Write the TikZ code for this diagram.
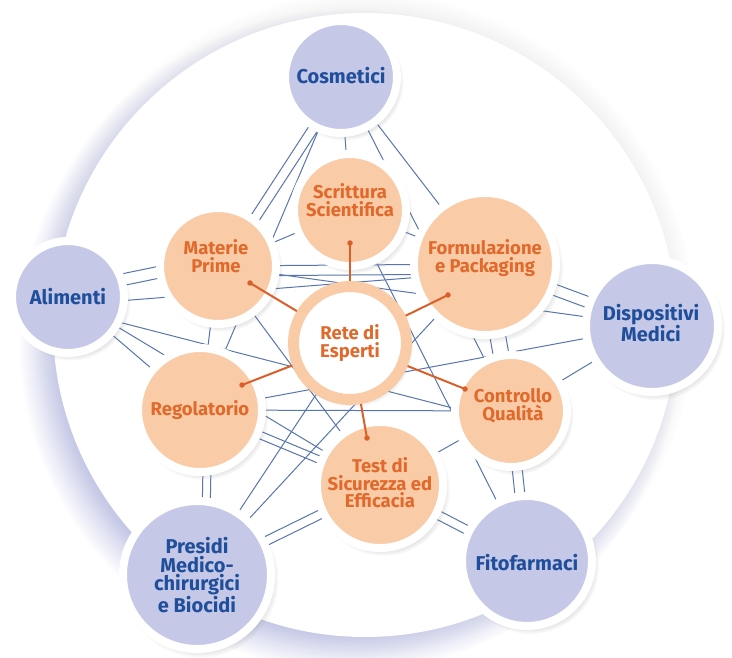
\documentclass[tikz,border=0pt]{standalone}
\usepackage{fontspec}
\setmainfont{Fira Sans}
\usetikzlibrary{shadows,fadings,calc}
\definecolor{lav}{HTML}{C5C8E7}
\definecolor{peach}{HTML}{F9CBA7}
\definecolor{otext}{HTML}{E0692B}
\definecolor{btext}{HTML}{1F4E9B}
\definecolor{meshc}{HTML}{5876AE}
\definecolor{olinec}{HTML}{D9602A}
\definecolor{bgshadow}{HTML}{B8BCE3}
\pgfdeclarelayer{back}
\pgfdeclarelayer{mid}
\pgfsetlayers{back,mid,main}
\newcommand\lnk[4]{\draw[meshline] ([shift={(#3,#4)}]#1.center) -- ([shift={(#3,#4)}]#2.center);}
\begin{document}
\begin{tikzpicture}[x=1pt,y=-1pt,
  bubble/.style={circle, draw=white, line width=8pt, inner sep=0pt,
    circular drop shadow={shadow xshift=3pt, shadow yshift=-4pt, opacity=0.35, shadow scale=1.06}},
  bluebub/.style={bubble, fill=lav, minimum size=#1},
  orbub/.style={bubble, fill=peach, minimum size=#1},
  btxt/.style={text=btext, font=\fontsize{20}{18.5}\selectfont\bfseries, align=center, inner sep=0pt},
  otxt/.style={text=otext, font=\fontsize{18.5}{17.5}\selectfont\bfseries, align=center, inner sep=0pt},
  meshline/.style={draw=meshc, line width=1pt},
  odot/.style={circle, fill=olinec, minimum size=5.5pt, inner sep=0pt},
  oline/.style={draw=olinec, line width=2pt}]
\useasboundingbox (0,0) rectangle (732,658);
\begin{pgfonlayer}{back}
\fill[white] (0,0) rectangle (732,658);
\path[fill=white,
  circular drop shadow={shadow xshift=-1pt, shadow yshift=2pt, fill=black, opacity=0.12, shadow scale=1.06},
  circular drop shadow={shadow xshift=-14pt, shadow yshift=-14pt, fill=bgshadow, opacity=1, shadow scale=1.06}]
  (365,325) circle (312);
\end{pgfonlayer}
% outer (blue) bubbles
\node[bluebub=112] (cos) at (341,77) {};
\node[bluebub=112] (ali) at (68,297) {};
\node[bluebub=132] (disp) at (652,326) {};
\node[bluebub=148] (pres) at (197,575) {};
\node[bluebub=130] (fito) at (527,561) {};
% inner (orange) bubbles
\node[orbub=112] (scr) at (350,210) {};
\node[orbub=116] (mp) at (218,266) {};
\node[orbub=142] (form) at (485,264) {};
\node[orbub=124] (reg) at (200,410) {};
\node[orbub=112] (cq) at (511,411) {};
\node[orbub=126] (test) at (380,485) {};
\node[circle, fill=white, draw=peach, line width=11pt, minimum size=113, inner sep=0pt,
  circular drop shadow={shadow xshift=3pt, shadow yshift=-4pt, opacity=0.3, shadow scale=1.06},
  text=otext, font=\fontsize{18.5}{17.5}\selectfont\bfseries, align=center] (rete) at (350,343) {Rete di\\Esperti};
% labels
\node[btxt] (tcos) at (341,76) {Cosmetici};
\node[btxt] (tali) at (68,297) {Alimenti};
\node[btxt] (tdisp) at (651,323) {Dispositivi\\Medici};
\node[btxt] (tpres) at (197,575) {Presidi\\Medico-\\chirurgici\\e Biocidi};
\node[btxt] (tfito) at (527,563) {Fitofarmaci};
\node[otxt] (tscr) at (350,200) {Scrittura\\Scientifica};
\node[otxt] (tmp) at (216,256) {Materie\\Prime};
\node[otxt] (tform) at (485,258) {Formulazione\\e Packaging};
\node[otxt] (treg) at (200,410) {Regolatorio};
\node[otxt] (tcq) at (513,406) {Controllo\\Qualità};
\node[otxt] (ttest) at (380,483) {Test di\\Sicurezza ed\\Efficacia};
% mesh lines
\begin{pgfonlayer}{mid}
\lnk{cos}{mp}{0}{0}
\lnk{cos}{mp}{9}{4}
\lnk{cos}{reg}{0}{0}
\lnk{cos}{form}{0}{0}
\lnk{cos}{cq}{0}{0}
\lnk{cos}{scr}{0}{0}
\lnk{ali}{mp}{0}{-12}
\lnk{ali}{mp}{0}{0}
\lnk{ali}{form}{0}{8}
\lnk{ali}{cq}{0}{12}
\lnk{ali}{reg}{0}{0}
\lnk{ali}{test}{0}{0}
\lnk{disp}{form}{0}{-6}
\lnk{disp}{form}{0}{6}
\lnk{disp}{cq}{0}{0}
\lnk{disp}{mp}{0}{0}
\lnk{disp}{reg}{0}{0}
\lnk{fito}{cq}{-5}{0}
\lnk{fito}{cq}{5}{0}
\lnk{fito}{test}{0}{-5}
\lnk{fito}{test}{0}{5}
\lnk{fito}{scr}{0}{0}
\lnk{pres}{reg}{4}{0}
\lnk{pres}{reg}{12}{0}
\lnk{pres}{rete}{0}{0}
\lnk{pres}{form}{0}{0}
\lnk{pres}{test}{0}{-5}
\lnk{pres}{test}{0}{5}
\lnk{reg}{test}{0}{-4}
\lnk{reg}{test}{0}{4}
\lnk{reg}{cq}{0}{0}
\lnk{mp}{reg}{0}{0}
\lnk{mp}{test}{0}{0}
\lnk{mp}{form}{0}{0}
\lnk{mp}{form}{0}{10}
\lnk{mp}{scr}{0}{0}
\lnk{scr}{form}{0}{0}
\lnk{form}{cq}{-8}{0}
\lnk{form}{cq}{8}{0}
\lnk{test}{cq}{0}{0}
\end{pgfonlayer}
% orange connectors
\node[odot] (dmp) at (250,283) {};
\node[odot] (dscr) at (350,243) {};
\node[odot] (dform) at (448,295) {};
\node[odot] (dreg) at (242,385) {};
\node[odot] (dcq) at (465,389) {};
\node[odot] (dtest) at (367,438) {};
\foreach \d in {dmp,dscr,dform,dreg,dcq,dtest} \draw[oline] (rete) -- (\d.center);
\end{tikzpicture}
\end{document}
